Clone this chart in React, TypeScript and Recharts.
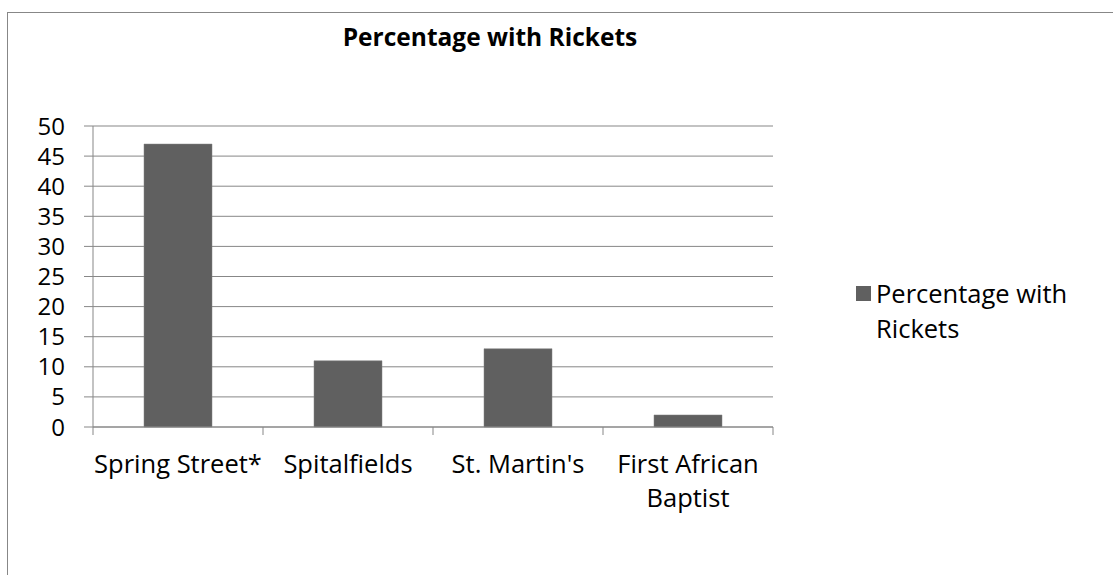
import { Bar, BarChart, CartesianGrid, Legend, XAxis, YAxis } from 'recharts';

const sites = ['Spring Street*', 'Spitalfields', "St. Martin's", 'First African Baptist'];
const ricketsPct = [47, 11, 13, 2];
const yTicks = [0, 5, 10, 15, 20, 25, 30, 35, 40, 45, 50];
const seriesName = 'Percentage with Rickets';
const chartTitle = 'Percentage with Rickets';

const data = sites.map((site, i) => ({ site, pct: ricketsPct[i] }));

const W = 1113;
const H = 575;
const PLOT_LEFT = 93;
const PLOT_RIGHT = 773;
const FONT = '"Open Sans", sans-serif';
const FS = 25.5;
const GRID = '#878787';
const BAR = '#606060';

const band = (PLOT_RIGHT - PLOT_LEFT) / sites.length;

// word wrap by measured width, like the original axis does
let ctx: CanvasRenderingContext2D | null = null;
function wrap(label: string, maxW: number): string[] {
  if (!ctx) ctx = document.createElement('canvas').getContext('2d');
  if (!ctx) return [label];
  ctx.font = `${FS}px "Open Sans"`;
  const lines: string[] = [];
  let cur = '';
  for (const w of label.split(' ')) {
    const next = cur ? `${cur} ${w}` : w;
    if (cur && ctx.measureText(next).width > maxW) {
      lines.push(cur);
      cur = w;
    } else {
      cur = next;
    }
  }
  if (cur) lines.push(cur);
  return lines;
}

function SiteTick(props: any) {
  const { x, y, payload, index } = props;
  const last = index === sites.length - 1;
  const lines = wrap(String(payload.value), band + 12);
  return (
    <g>
      <line x1={x - band / 2} x2={x - band / 2} y1={y} y2={y + 8} stroke={GRID} />
      {last && <line x1={x + band / 2} x2={x + band / 2} y1={y} y2={y + 8} stroke={GRID} />}
      <text x={x} y={y + 46} textAnchor="middle" fontSize={FS} fill="#000" style={{ fontFamily: FONT }}>
        {lines.map((l, i) => (
          <tspan key={i} x={x} dy={i === 0 ? 0 : 34}>
            {l}
          </tspan>
        ))}
      </text>
    </g>
  );
}

function LegendBox() {
  return (
    <div style={{ display: 'flex', alignItems: 'flex-start', fontFamily: FONT, fontSize: FS, color: '#000', lineHeight: '35px' }}>
      <span style={{ width: 15, height: 15, background: BAR, marginTop: 10, marginRight: 5, flex: 'none' }} />
      <span style={{ width: 220 }}>{seriesName}</span>
    </div>
  );
}

export default function App() {
  return (
    <div style={{ position: 'absolute', left: 0, top: 0, width: W, height: H, overflow: 'hidden', background: '#fff', fontFamily: FONT }}>
      <div style={{ position: 'absolute', left: 7, top: 12, width: 1300, height: 800, border: `1px solid ${GRID}` }} />
      <div style={{ position: 'absolute', left: 0, top: 20, width: 980, textAlign: 'center', fontWeight: 700, fontSize: 24.5, color: '#000' }}>
        {chartTitle}
      </div>
      <div style={{ position: 'absolute', left: 0, top: 0 }}>
        <BarChart width={W} height={H} data={data} margin={{ top: 126, right: 110, bottom: 88, left: 0 }} barCategoryGap="30%">
          <CartesianGrid horizontal vertical={false} stroke={GRID} />
          <XAxis
            dataKey="site"
            interval={0}
            height={60}
            tickSize={0}
            tickMargin={0}
            axisLine={{ stroke: GRID }}
            tick={<SiteTick />}
          />
          <YAxis
            width={93}
            domain={[0, 50]}
            ticks={yTicks}
            interval={0}
            tickSize={9}
            tickMargin={19}
            axisLine={{ stroke: GRID }}
            tickLine={{ stroke: GRID }}
            tick={{ fill: '#000', fontSize: 24 }}
          />
          <Legend
            layout="vertical"
            align="right"
            verticalAlign="middle"
            wrapperStyle={{ left: 856, top: 276, width: 230 }}
            content={<LegendBox />}
          />
          <Bar dataKey="pct" name={seriesName} fill={BAR} stroke="#808080" strokeWidth={0.5} isAnimationActive={false} />
        </BarChart>
      </div>
    </div>
  );
}
